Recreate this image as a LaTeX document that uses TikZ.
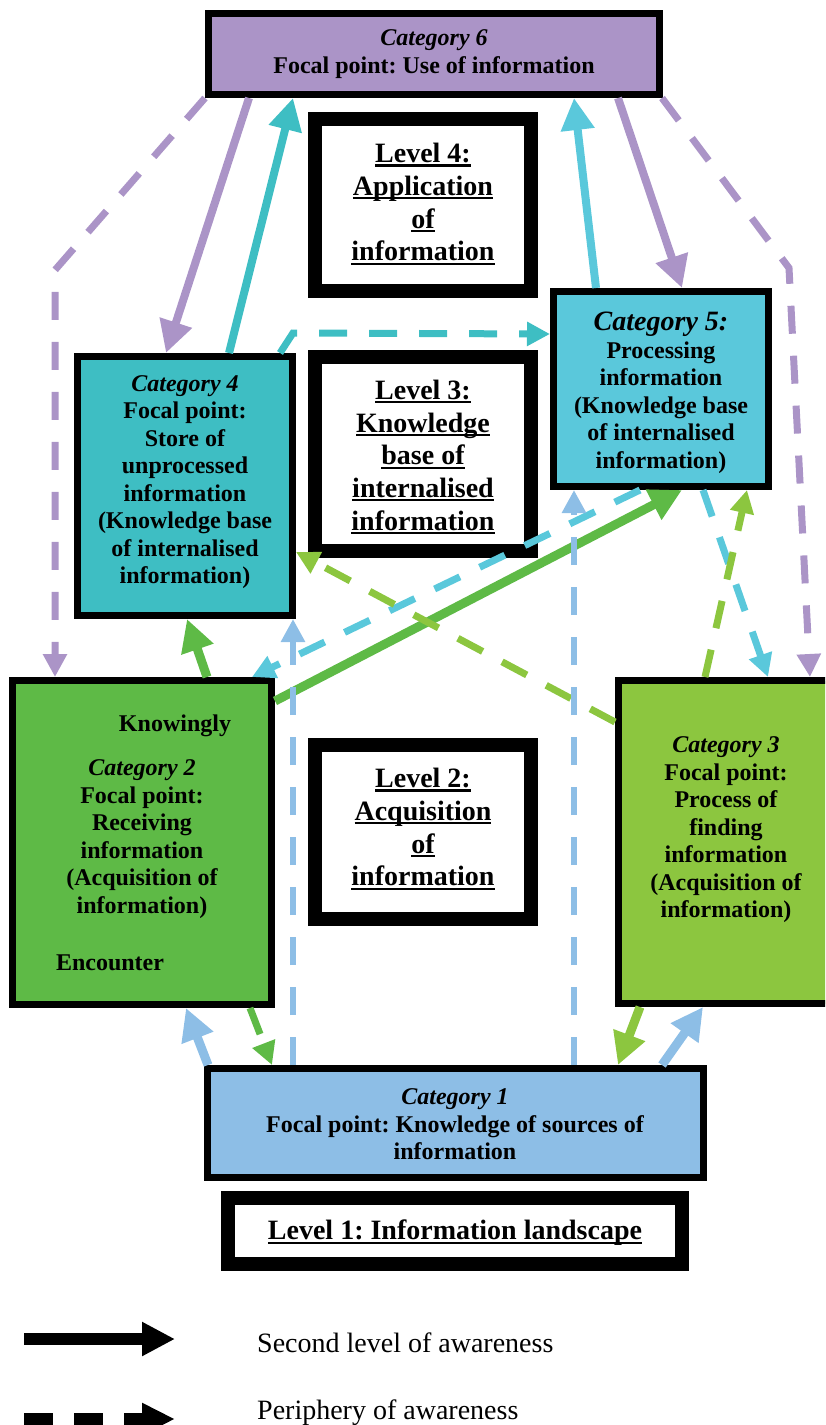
\documentclass[tikz,border=0pt]{standalone}
\usepackage{fontspec}
\setmainfont{Liberation Serif}
\usetikzlibrary{arrows.meta,calc}
\definecolor{cpur}{HTML}{AB94C7}
\definecolor{cteal}{HTML}{3EBEC3}
\definecolor{ccyan}{HTML}{5AC8DB}
\definecolor{cgreen}{HTML}{5EBA46}
\definecolor{cyg}{HTML}{8CC63F}
\definecolor{cblue}{HTML}{8DBEE6}
\newcommand\ulw[1]{\leavevmode\setbox0=\hbox{#1}\rlap{\rule[-4pt]{\wd0}{2.2pt}}\box0}
\frenchspacing
\begin{document}
\begin{tikzpicture}[x=1pt,y=-1pt,
  box/.style={draw=black,line width=7pt,outer sep=3.5pt,inner sep=0pt},
  lvl/.style={draw=black,line width=14pt,outer sep=7pt,fill=white,inner sep=0pt},
  ctext/.style={font=\fontsize{24}{27.5}\selectfont\bfseries,align=center,inner sep=0pt},
  ltext/.style={font=\fontsize{28}{32.7}\selectfont\bfseries,align=center,inner sep=0pt},
  sol/.style={line width=8pt,-{Triangle[width=32pt,length=32pt]}},
  dsh/.style={line width=7pt,dash pattern=on 28pt off 22pt,-{Triangle[width=23pt,length=23pt]}},
]
\useasboundingbox (0,0) rectangle (825,1425);
\clip (0,0) rectangle (825,1425);

% boxes
\node[box,fill=cpur,minimum width=451pt,minimum height=81pt] (cat6) at (434,54) {};
\node[lvl,minimum width=216pt,minimum height=172pt] (lv4) at (423,205) {};
\node[box,fill=ccyan,minimum width=215pt,minimum height=195pt] (cat5) at (661,389) {};
\node[box,fill=cteal,minimum width=215pt,minimum height=259pt] (cat4) at (185,486) {};
\node[lvl,minimum width=216pt,minimum height=194pt] (lv3) at (423,454) {};
\node[box,fill=cgreen,minimum width=259pt,minimum height=324pt] (cat2) at (142,842.5) {};
\node[lvl,minimum width=216pt,minimum height=174pt] (lv2) at (423,832) {};
\node[box,fill=cyg,minimum width=218pt,minimum height=323pt] (cat3) at (727.5,842) {};
\node[box,fill=cblue,minimum width=496pt,minimum height=109pt] (cat1) at (455.5,1123) {};
\node[lvl,minimum width=454pt,minimum height=66pt] (lv1) at (455,1231) {};

% texts
\node[ctext] (t6) at (434,54) {\textit{Category 6}\\Focal point: Use of information};
\node[ltext] (t4l) at (423,204) {\ulw{Level 4:}\\\ulw{Application}\\\ulw{of}\\\ulw{information}};
\node[ctext] (t5) at (661,393) {{\fontsize{28}{32}\selectfont\textit{Category 5:}}\\Processing\\information\\(Knowledge base\\of internalised\\information)};
\node[ctext] (t4) at (185,482) {\textit{Category 4}\\Focal point:\\Store of\\unprocessed\\information\\(Knowledge base\\of internalised\\information)};
\node[ltext] (t3l) at (423,457) {\ulw{Level 3:}\\\ulw{Knowledge}\\\ulw{base of}\\\ulw{internalised}\\\ulw{information}};
\node[ctext] (tk) at (175,726) {Knowingly};
\node[ctext] (t2) at (142,839) {\textit{Category 2}\\Focal point:\\Receiving\\information\\(Acquisition of\\information)};
\node[ctext] (te) at (110,963) {Encounter};
\node[ltext] (t2l) at (423,829) {\ulw{Level 2:}\\\ulw{Acquisition}\\\ulw{of}\\\ulw{information}};
\node[ctext] (t3) at (726,830) {\textit{Category 3}\\Focal point:\\Process of\\finding\\information\\(Acquisition of\\information)};
\node[ctext] (t1) at (455,1124.5) {\textit{Category 1}\\Focal point: Knowledge of sources of\\information};
\node[ltext] (t1l) at (455,1233) {\ulw{Level 1: Information landscape}};

% connectors
\draw[dsh,cpur] (cat6.south west) -- ++(-150,172) -- ($(cat2.north west)+(46,0)$);
\draw[sol,cpur] ($(cat6.south west)+(44,0)$) -- ($(cat4.north west)+(92,0)$);
\draw[sol,cteal] ($(cat4.north west)+(155,0)$) -- ($(cat6.south west)+(88,0)$);
\draw[sol,ccyan] ($(cat5.north west)+(46,0)$) -- ($(cat6.south west)+(369,0)$);
\draw[sol,cpur] ($(cat6.south west)+(413,0)$) -- ($(cat5.north west)+(132,0)$);
\draw[dsh,cpur] ($(cat6.south east)+(-1,0)$) -- ++(127,170) -- ($(cat3.north west)+(195,0)$);
\draw[dsh,cteal] ($(cat4.north east)+(-16,0)$) -- ++(13,-20) -- ($(cat5.north west)+(0,46)$);
\draw[dsh,ccyan] ($(cat5.south west)+(90,0)$) -- ($(cat2.north east)+(-23,0)$);
\draw[sol,cgreen,line width=9pt] ($(cat2.north east)+(0,24)$) -- ($(cat5.south west)+(132,0)$);
\draw[dsh,cyg] ($(cat3.north west)+(0,45)$) -- ($(cat4.south east)+(0,-67)$);
\draw[dsh,ccyan] ($(cat5.south west)+(153,0)$) -- ($(cat3.north west)+(153,0)$);
\draw[dsh,cyg] ($(cat3.north west)+(90,0)$) -- ($(cat5.south west)+(197,0)$);
\draw[sol,cgreen,line width=9pt] ($(cat2.north west)+(198,0)$) -- ($(cat4.south west)+(113,0)$);
\draw[dsh,cblue,line width=6pt] ($(cat1.north west)+(89,0)$) -- ($(cat4.south west)+(219,0)$);
\draw[dsh,cblue,line width=6pt] ($(cat1.north west)+(370,0)$) -- ($(cat5.south west)+(24,0)$);
\draw[sol,cblue,line width=9pt] ($(cat1.north west)+(4,0)$) -- ($(cat2.south west)+(177,0)$);
\draw[dsh,cgreen] ($(cat2.south west)+(241,0)$) -- ($(cat1.north west)+(68,0)$);
\draw[sol,cyg,line width=9pt] ($(cat3.south west)+(25,0)$) -- ($(cat1.north west)+(414,0)$);
\draw[sol,cblue,line width=9pt] ($(cat1.north west)+(458,0)$) -- ($(cat3.south west)+(88,0)$);

% legend
\coordinate (la) at (24,1339);
\coordinate (lb) at (175,1339);
\draw[line width=12pt,-{Triangle[width=32pt,length=33pt]}] (la) -- (lb);
\coordinate (lc) at (24,1419);
\coordinate (ld) at (175,1419);
\draw[line width=12pt,dash pattern=on 29pt off 21pt,-{Triangle[width=30pt,length=33pt]}] (lc) -- (ld);
\node[anchor=base west,inner sep=0pt,font=\fontsize{28}{32}\selectfont] (lg1) at (257,1352) {Second level of awareness};
\node[anchor=base west,inner sep=0pt,font=\fontsize{28}{32}\selectfont] (lg2) at (257,1419) {Periphery of awareness};
\end{tikzpicture}
\end{document}
